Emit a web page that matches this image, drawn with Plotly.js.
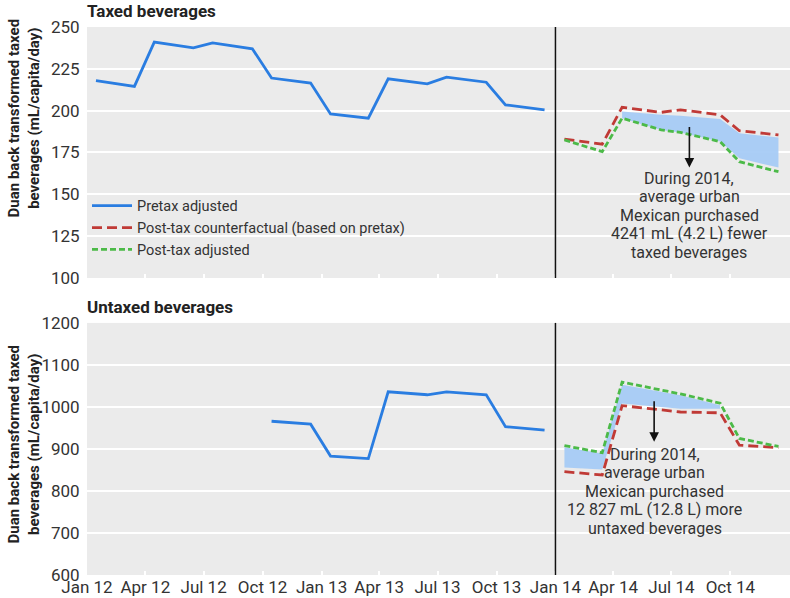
<!DOCTYPE html>
<html>
<head>
<meta charset="utf-8">
<script src="https://cdn.plot.ly/plotly-3.0.1.min.js"></script>
<style>html,body{margin:0;padding:0;background:#fff;}#chart{width:790px;height:598px;}</style>
</head>
<body>
<div id="chart"></div>
<script>
// ---- data ----
var preDates = ['2012-01-15','2012-03-15','2012-04-15','2012-06-15','2012-07-15','2012-09-15','2012-10-15','2012-12-15',
                '2013-01-15','2013-03-15','2013-04-15','2013-06-15','2013-07-15','2013-09-15','2013-10-15','2013-12-15'];
var postDates = ['2014-01-15','2014-03-15','2014-04-15','2014-06-15','2014-07-15','2014-09-15','2014-10-15','2014-12-15'];

var taxedPretax = [218, 214.5, 241, 237.5, 240.5, 237, 219.5, 216.5, 198, 195.5, 219, 216, 220, 217, 203.5, 200.5];
var taxedCounterfactual = [183, 180, 202, 199, 200.5, 197.5, 188, 185.5];
var taxedPostAdjusted = [182.5, 175.5, 195.5, 188.5, 187, 181.5, 169.5, 163.5];
var taxedBandDates = ['2014-04-15','2014-06-15','2014-07-15','2014-09-15','2014-10-15','2014-12-15'];
var taxedBandLow = [195.5, 188.5, 187, 181.5, 171.5, 166];
var taxedBandHigh = [199.5, 197.5, 197, 195, 186.5, 184];

var untaxedPreDates = ['2012-10-15','2012-12-15','2013-01-15','2013-03-15','2013-04-15','2013-06-15','2013-07-15','2013-09-15','2013-10-15','2013-12-15'];
var untaxedPretax = [966, 959, 883, 877, 1036, 1029, 1036, 1029, 953, 945];
var untaxedCounterfactual = [846, 838, 1003, 993, 988, 986, 909, 903];
var untaxedPostAdjusted = [908, 891, 1059, 1041, 1031, 1009, 925, 906];
var untaxedBandDates = ['2014-01-15','2014-03-15','2014-04-15','2014-06-15','2014-07-15','2014-09-15'];
var untaxedBandLow = [856, 851, 1008, 1000, 996, 996];
var untaxedBandHigh = [904, 889, 1053, 1036, 1028, 1004];

var tickDates = ['2012-01-01','2012-04-01','2012-07-01','2012-10-01','2013-01-01','2013-04-01','2013-07-01','2013-10-01',
                 '2014-01-01','2014-04-01','2014-07-01','2014-10-01'];
var tickLabels = ['Jan 12','Apr 12','Jul 12','Oct 12','Jan 13','Apr 13','Jul 13','Oct 13','Jan 14','Apr 14','Jul 14','Oct 14'];

var legendNames = ['Pretax adjusted','Post-tax counterfactual (based on pretax)','Post-tax adjusted'];
var panelTitles = ['Taxed beverages','Untaxed beverages'];
var yTitle = 'Duan back transformed taxed<br>beverages (mL/capita/day)';
var noteTaxed = ['During 2014,','average urban','Mexican purchased','4241 mL (4.2 L) fewer','taxed beverages'];
var noteUntaxed = ['During 2014,','average urban','Mexican purchased','12 827 mL (12.8 L) more','untaxed beverages'];

// ---- styles ----
var FONT = 'Roboto, sans-serif';
var BLUE = '#2a7de1', RED = '#c03a36', GREEN = '#4cba48', FILL = 'rgba(166,203,246,0.95)';

function band(dates, low, high, xa, ya) {
  return [
    {x: dates, y: low, xaxis: xa, yaxis: ya, mode: 'lines', line: {width: 0, color: 'rgba(0,0,0,0)'}, showlegend: false, hoverinfo: 'skip'},
    {x: dates, y: high, xaxis: xa, yaxis: ya, mode: 'lines', line: {width: 0, color: 'rgba(0,0,0,0)'}, fill: 'tonexty', fillcolor: FILL, showlegend: false, hoverinfo: 'skip'}
  ];
}

var LW = 2.8;
var traces = [].concat(
  band(taxedBandDates, taxedBandLow, taxedBandHigh, 'x', 'y'),
  band(untaxedBandDates, untaxedBandLow, untaxedBandHigh, 'x2', 'y2'),
  [
    {x: preDates, y: taxedPretax, xaxis: 'x', yaxis: 'y', mode: 'lines', name: legendNames[0], line: {color: BLUE, width: LW}, legendgroup: 'a'},
    {x: postDates, y: taxedCounterfactual, xaxis: 'x', yaxis: 'y', mode: 'lines', name: legendNames[1], line: {color: RED, width: LW, dash: '10px,5px'}, legendgroup: 'b'},
    {x: postDates, y: taxedPostAdjusted, xaxis: 'x', yaxis: 'y', mode: 'lines', name: legendNames[2], line: {color: GREEN, width: LW, dash: '6px,3px'}, legendgroup: 'c'},
    {x: untaxedPreDates, y: untaxedPretax, xaxis: 'x2', yaxis: 'y2', mode: 'lines', name: legendNames[0], line: {color: BLUE, width: LW}, showlegend: false, legendgroup: 'a'},
    {x: postDates, y: untaxedCounterfactual, xaxis: 'x2', yaxis: 'y2', mode: 'lines', name: legendNames[1], line: {color: RED, width: LW, dash: '10px,5px'}, showlegend: false, legendgroup: 'b'},
    {x: postDates, y: untaxedPostAdjusted, xaxis: 'x2', yaxis: 'y2', mode: 'lines', name: legendNames[2], line: {color: GREEN, width: LW, dash: '6px,3px'}, showlegend: false, legendgroup: 'c'}
  ]
);

var xRange = ['2012-01-01', '2015-01-02'];
var tickFont = {family: FONT, size: 17, color: '#333'};
function xaxis(anchor, labels) {
  return {anchor: anchor, range: xRange, type: 'date', tickmode: 'array', tickvals: tickDates, ticktext: tickLabels,
          showticklabels: labels, ticks: 'inside', ticklen: 4, tickwidth: 2, tickcolor: '#ffffff',
          showgrid: false, zeroline: false, showline: false, tickfont: tickFont, fixedrange: true};
}
function yaxis(anchor, domain, range, dtick) {
  return {anchor: anchor, domain: domain, range: range, dtick: dtick, tick0: 0, showgrid: true, gridcolor: '#ffffff', gridwidth: 2,
          zeroline: false, showline: false, ticks: 'outside', ticklen: 3, tickcolor: 'rgba(0,0,0,0)', tickfont: tickFont};
}

var annotations = [
  {xref: 'paper', yref: 'paper', x: 0, y: 1, yshift: 4, xshift: -2, xanchor: 'left', yanchor: 'bottom', showarrow: false, text: '<b>' + panelTitles[0] + '</b>',
   font: {family: FONT, size: 17, color: '#222'}},
  {xref: 'paper', yref: 'paper', x: 0, y: 0.46, yshift: 4, xshift: -2, xanchor: 'left', yanchor: 'bottom', showarrow: false, text: '<b>' + panelTitles[1] + '</b>',
   font: {family: FONT, size: 17, color: '#222'}},
  {xref: 'paper', yref: 'paper', x: -0.089, y: 0.834, xanchor: 'center', yanchor: 'middle', textangle: -90, showarrow: false, text: '<b>' + yTitle + '</b>',
   font: {family: FONT, size: 15, color: '#222'}},
  {xref: 'paper', yref: 'paper', x: -0.089, y: 0.239, xanchor: 'center', yanchor: 'middle', textangle: -90, showarrow: false, text: '<b>' + yTitle + '</b>',
   font: {family: FONT, size: 15, color: '#222'}},
  {xref: 'x', yref: 'y', x: '2014-07-29', y: 166, ax: 0, ay: -42, showarrow: true, arrowhead: 2, arrowsize: 1.2, arrowwidth: 1.6, arrowcolor: '#111', text: ''},
  {xref: 'x2', yref: 'y2', x: '2014-06-04', y: 917, ax: 0, ay: -42, showarrow: true, arrowhead: 2, arrowsize: 1.2, arrowwidth: 1.6, arrowcolor: '#111', text: ''}
];
var LINE_GAP = 18.5;
function addNote(lines, xa, ya, xv, yv) {
  lines.forEach(function (t, i) {
    annotations.push({xref: xa, yref: ya, x: xv, y: yv, yshift: (2 - i) * LINE_GAP, showarrow: false, text: t, borderpad: 0,
                      xanchor: 'center', yanchor: 'middle', font: {family: FONT, size: 16, color: '#333'}});
  });
}
addNote(noteTaxed, 'x', 'y', '2014-07-29', 137.5);
addNote(noteUntaxed, 'x2', 'y2', '2014-06-05', 799);

var layout = {
  width: 790, height: 598,
  margin: {l: 87, r: 0, t: 27, b: 23},
  paper_bgcolor: '#ffffff', plot_bgcolor: '#ebebeb',
  font: {family: FONT, size: 15, color: '#333'},
  xaxis: xaxis('y', false),
  yaxis: yaxis('x', [0.542, 1], [100, 250], 25),
  xaxis2: xaxis('y2', true),
  yaxis2: yaxis('x2', [0, 0.46], [600, 1200], 100),
  showlegend: true,
  legend: {x: 0, xanchor: 'left', y: 0.703, yanchor: 'top', bgcolor: 'rgba(0,0,0,0)', font: {family: FONT, size: 14.5, color: '#333'},
           tracegroupgap: 0, itemwidth: 40},
  shapes: [
    {type: 'line', xref: 'x', yref: 'y domain', x0: '2014-01-01', x1: '2014-01-01', y0: 0, y1: 1, line: {color: '#111', width: 1.5}},
    {type: 'line', xref: 'x2', yref: 'y2 domain', x0: '2014-01-01', x1: '2014-01-01', y0: 0, y1: 1, line: {color: '#111', width: 1.5}}
  ],
  annotations: annotations
};

Plotly.newPlot('chart', traces, layout, {displayModeBar: false, staticPlot: true});
</script>
</body>
</html>
